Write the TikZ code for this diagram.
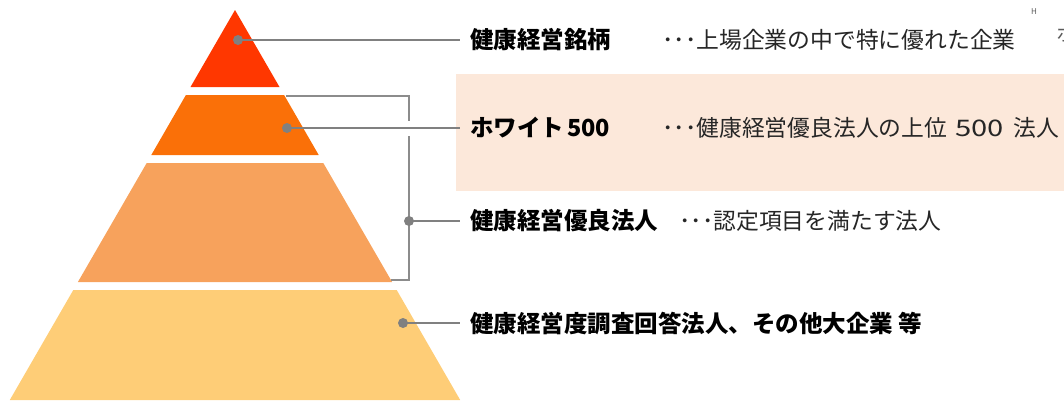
\documentclass[tikz,border=0pt]{standalone}
\usepackage{fontspec}
\setmainfont{Noto Sans CJK JP}
\newfontfamily\jpfont{Noto Sans CJK JP}
\definecolor{tierA}{RGB}{255,55,0}
\definecolor{tierB}{RGB}{250,112,8}
\definecolor{tierC}{RGB}{247,162,92}
\definecolor{tierD}{RGB}{254,205,119}
\definecolor{beige}{RGB}{252,232,218}
\definecolor{connGray}{RGB}{128,128,128}
\definecolor{brGray}{RGB}{140,140,140}
\definecolor{noteGray}{RGB}{90,90,90}
\newcommand{\widedigits}[1]{\scalebox{1.28}[1]{#1}}
\tikzset{
  dotmark/.style={circle,fill=connGray,inner sep=0pt,minimum size=10pt},
  conn/.style={draw=connGray,line width=2.4pt},
  bracketline/.style={draw=brGray,line width=1.4pt},
  title/.style={anchor=west,inner xsep=10pt,inner ysep=0pt,font=\jpfont\bfseries\fontsize{23.5}{26}\selectfont,text=black},
  desc/.style={anchor=west,inner sep=0pt,font=\jpfont\fontsize{22.8}{26}\selectfont,text=black!85},
}
\begin{document}
\begin{tikzpicture}[x=1pt,y=-1pt]
\useasboundingbox (0,0) rectangle (1064,400);
\clip (0,0) rectangle (1064,400);
% beige highlight
\fill[beige] (456,74) rectangle (1064,190.5);
% pyramid tiers
\fill[tierA] (235,10) -- (279.5,87) -- (190.5,87) -- cycle;
\fill[tierB] (185.9,95) -- (284.1,95) -- (318.7,155) -- (151.3,155) -- cycle;
\fill[tierC] (146.7,163) -- (323.3,163) -- (392.1,282) -- (77.9,282) -- cycle;
\fill[tierD] (73.3,290) -- (396.7,290) -- (460.2,400) -- (9.8,400) -- cycle;
% bracket
\coordinate (brTopL) at (286,96);
\coordinate (brTopR) at (409,96);
\coordinate (brGapA) at (409,121);
\coordinate (brGapB) at (409,136);
\coordinate (brBotR) at (409,280);
\coordinate (brBotL) at (391,280);
\draw[bracketline] (brTopL) -- (brTopR) -- (brGapA);
\draw[bracketline] (brGapB) -- (brBotR) -- (brBotL);
% labels
\node[title] (t1) at (460,40) {健康経営銘柄};
\node[title] (t2) at (460,128) {ホワイト\hspace{3pt}500};
\node[title] (t3) at (460,221) {健康経営優良法人};
\node[title] (t4) at (460,323) {健康経営度調査回答法人、その他大企業 等};
\node[desc] (e1) at (662,40) {･･･上場企業の中で特に優れた企業};
\node[desc] (e2) at (662,128) {･･･健康経営優良法人の上位\hspace{8pt}\widedigits{500}\hspace{10pt}法人};
\node[desc] (e3) at (679,221) {･･･認定項目を満たす法人};
% dots and connectors
\node[dotmark] (d1) at (238,40) {};
\node[dotmark] (d2) at (287,128) {};
\node[dotmark] (d3) at (409,221) {};
\node[dotmark] (d4) at (403,323) {};
\draw[conn] (d1.center) -- (t1.west);
\draw[conn] (d2.center) -- (t2.west);
\draw[conn] (d3.center) -- (t3.west);
\draw[conn] (d4.center) -- (t4.west);
% cut-off note at top right
\node[anchor=west,inner sep=0pt,font=\jpfont\fontsize{8}{9}\selectfont,text=noteGray] (n1) at (1031,12) {H};
\node[anchor=west,inner sep=0pt,font=\jpfont\fontsize{20}{22}\selectfont,text=noteGray] (n2) at (1056,34) {ホ};
\end{tikzpicture}
\end{document}
